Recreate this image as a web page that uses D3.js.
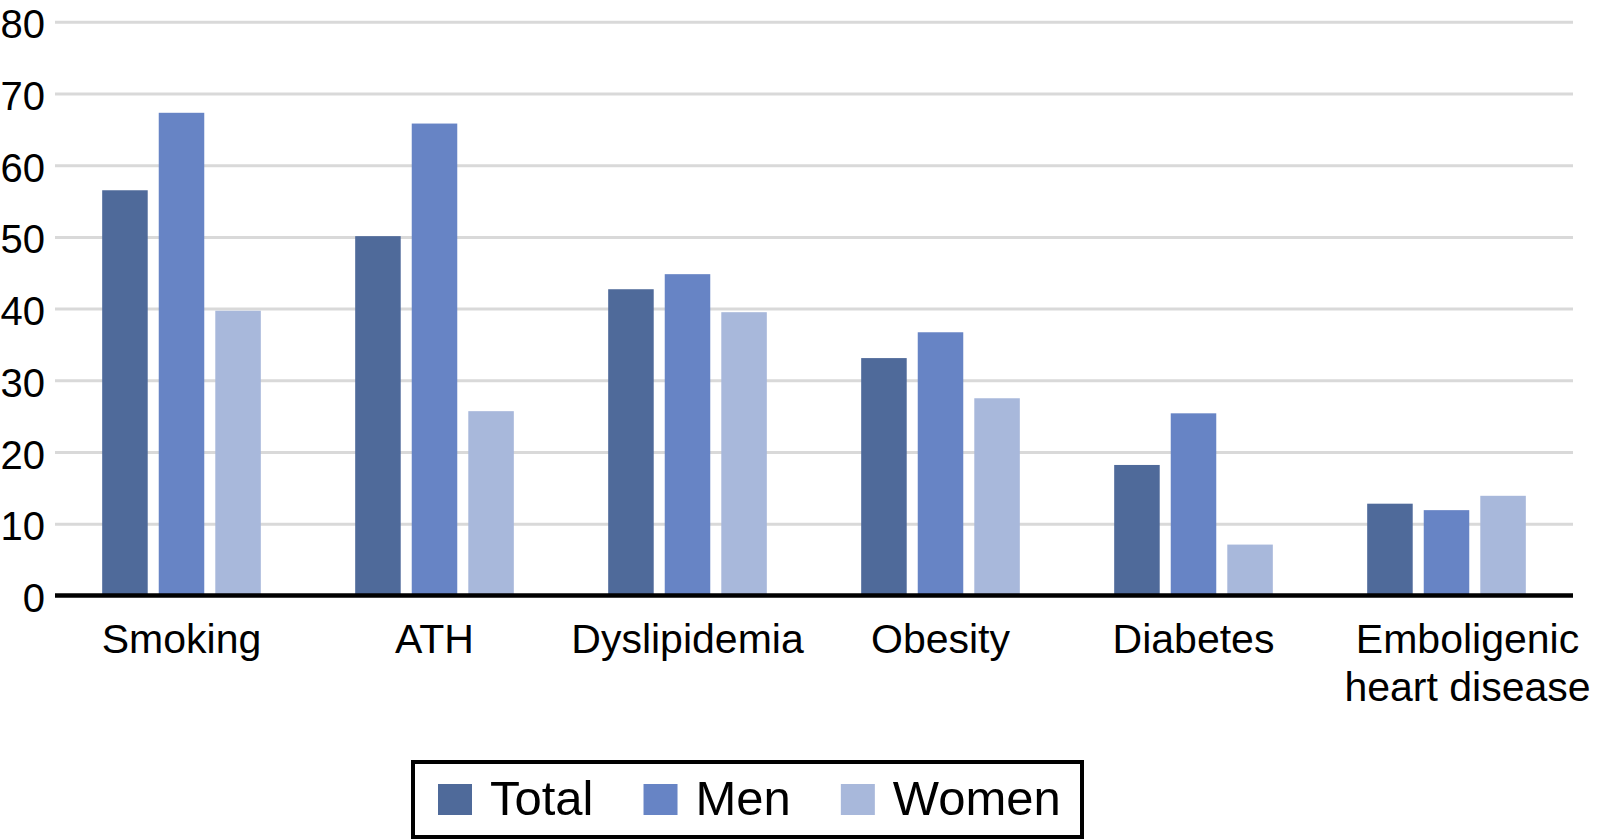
<!DOCTYPE html>
<html>
<head>
<meta charset="utf-8">
<script src="https://cdn.jsdelivr.net/npm/d3@7"></script>
<style>
  body { margin: 0; background: #fff; }
  text { font-family: "Liberation Sans", Arial, sans-serif; fill: #000; }
</style>
</head>
<body>
<div id="chart"></div>
<script>
var categories = ["Smoking", "ATH", "Dyslipidemia", "Obesity", "Diabetes", "Emboligenic heart disease"];
var series = ["Total", "Men", "Women"];
var total = [56.5, 50.1, 42.7, 33.1, 18.2, 12.8];
var men   = [67.3, 65.8, 44.8, 36.7, 25.4, 11.9];
var women = [39.7, 25.7, 39.5, 27.5, 7.1, 13.9];
var yTicks = [0, 10, 20, 30, 40, 50, 60, 70, 80];
var colors = ["#4f6a9a", "#6784c5", "#a8b8db"];

var values = [total, men, women];
var rows = categories.map(function(c, i) {
  return { cat: c, vals: series.map(function(s, j) { return { key: s, value: values[j][i] }; }) };
});

var W = 1597, H = 840;
var left = 55, right = 1573, y0 = 595.5, yTop = 21.7;

var svg = d3.select("#chart").append("svg").attr("width", W).attr("height", H);

var x0 = d3.scaleBand().domain(categories).range([left, right]).paddingInner(0.373).paddingOuter(0.1865);
var x1 = d3.scaleBand().domain(series).range([0, x0.bandwidth()]).paddingInner(0.195).paddingOuter(0);
var y = d3.scaleLinear().domain([0, 80]).range([y0, yTop]);
var color = d3.scaleOrdinal().domain(series).range(colors);

// grid + y labels
var yAxis = svg.append("g").attr("transform", "translate(" + left + ",0)")
  .call(d3.axisLeft(y).tickValues(yTicks).tickSize(-(right - left)).tickPadding(10).tickFormat(d3.format("d")));
yAxis.select(".domain").remove();
yAxis.selectAll(".tick line").style("stroke", "#d9d9d9").style("stroke-width", 3);
yAxis.selectAll(".tick text").style("font-size", "40px").attr("dy", "0.4em");
yAxis.selectAll(".tick").filter(function(d) { return d === 0; }).select("line").remove();

// bars
var groups = svg.selectAll("g.grp").data(rows).enter().append("g").attr("class", "grp")
  .attr("transform", function(d) { return "translate(" + x0(d.cat) + ",0)"; });

groups.selectAll("rect").data(function(d) { return d.vals; }).enter().append("rect")
  .attr("x", function(d) { return x1(d.key); })
  .attr("width", x1.bandwidth())
  .attr("y", function(d) { return y(d.value); })
  .attr("height", function(d) { return y0 - y(d.value); })
  .style("fill", function(d) { return color(d.key); });

// baseline
svg.append("line").attr("x1", left).attr("x2", right).attr("y1", y0).attr("y2", y0)
  .style("stroke", "#000").style("stroke-width", 4.5);

// category labels
var xAxis = svg.append("g").attr("transform", "translate(0," + y0 + ")")
  .call(d3.axisBottom(x0).tickSize(0).tickPadding(0));
xAxis.select(".domain").remove();
xAxis.selectAll(".tick text").style("font-size", "41px").attr("y", 57.5).attr("dy", 0)
  .call(wrap, x0.step());

function wrap(sel, width) {
  sel.each(function() {
    var t = d3.select(this), words = t.text().split(/\s+/), line = [], lines = [];
    t.text(null);
    var probe = t.append("tspan");
    words.forEach(function(w) {
      line.push(w);
      probe.text(line.join(" "));
      if (probe.node().getComputedTextLength() > width && line.length > 1) {
        line.pop(); lines.push(line.join(" ")); line = [w];
      }
    });
    lines.push(line.join(" "));
    probe.remove();
    var shift = lines.length > 1 ? 21 : 0;
    lines.forEach(function(l, i) {
      t.append("tspan").attr("x", shift).attr("dy", i ? 48 : 0).text(l);
    });
  });
}

// legend
var legend = svg.append("g");
legend.append("rect").attr("x", 413).attr("y", 762).attr("width", 669).attr("height", 75)
  .style("fill", "none").style("stroke", "#000").style("stroke-width", 4);

var lx = 438;
series.forEach(function(s) {
  legend.append("rect").attr("x", lx).attr("y", 784).attr("width", 34).attr("height", 31).style("fill", color(s));
  var t = legend.append("text").attr("x", lx + 52).attr("y", 815).style("font-size", "49px").text(s);
  lx = lx + 52 + t.node().getComputedTextLength() + 50;
});
</script>
</body>
</html>
